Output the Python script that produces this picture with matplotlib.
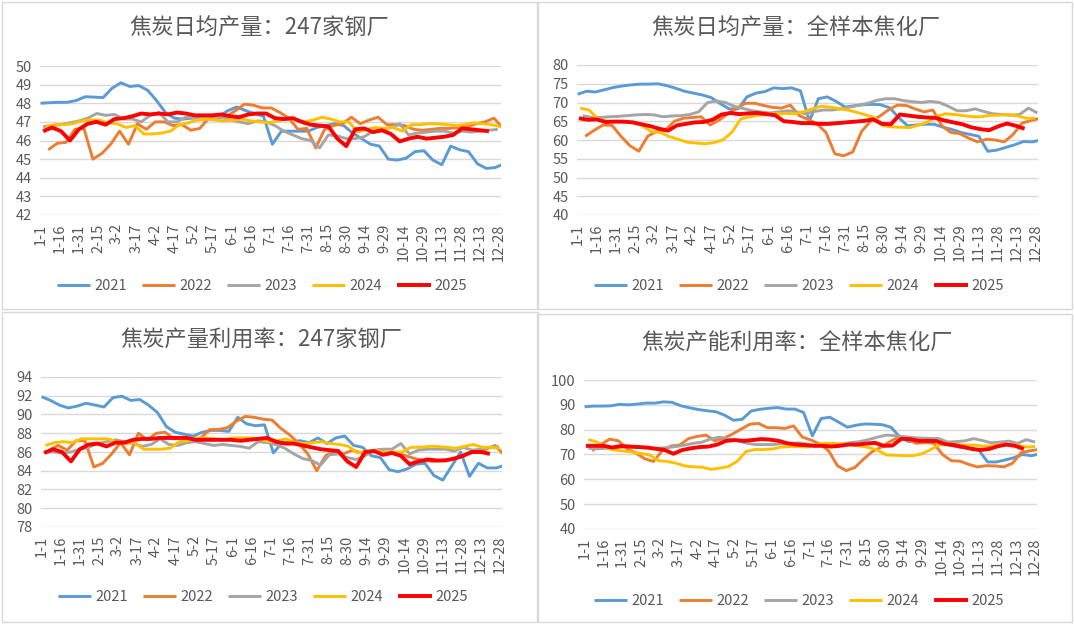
import numpy as np
import matplotlib
matplotlib.use('Agg')
from matplotlib import pyplot as plt
from matplotlib.patches import Rectangle

plt.rcParams['font.family'] = ['Noto Sans CJK SC', 'DejaVu Sans']

# x轴标签（每15天一个）
tick_labels = ['1-1', '1-16', '1-31', '2-15', '3-2', '3-17', '4-2', '4-17', '5-2', '5-17',
               '6-1', '6-16', '7-1', '7-16', '7-31', '8-15', '8-30', '9-14', '9-29',
               '10-14', '10-29', '11-13', '11-28', '12-13', '12-28']
years = ['2021', '2022', '2023', '2024', '2025']
colors = ['#5B9BD5', '#ED7D31', '#A5A5A5', '#FFC000', '#FF0000']

# ---- 焦炭日均产量：247家钢厂 ----
p1_2021 = [48.0, 48.03, 48.05, 48.05, 48.15, 48.35, 48.33, 48.3, 48.8, 49.1, 48.9, 48.95, 48.7,
           48.15, 47.5, 47.2, 47.15, 47.2, 47.3, 47.3, 47.3, 47.6, 47.8, 47.6, 47.45, 47.3, 45.8,
           46.5, 46.5, 46.5, 46.5, 46.7, 46.8, 46.9, 46.8, 46.4, 46.1, 45.8, 45.7, 45.0, 44.95,
           45.05, 45.4, 45.45, 44.95, 44.7, 45.7, 45.5, 45.4, 44.75, 44.5, 44.55, 44.75]
p1_2022 = [45.5, 45.85, 45.9, 46.6, 46.65, 45.0, 45.3, 45.8, 46.5, 45.8, 46.9, 46.6, 47.0, 47.0,
           46.8, 46.85, 46.55, 46.65, 47.2, 47.2, 47.3, 47.6, 47.95, 47.9, 47.75, 47.75, 47.5,
           47.2, 46.6, 46.65, 45.6, 46.6, 46.8, 46.9, 47.25, 46.9, 47.1, 47.25, 46.85, 46.85,
           46.8, 46.6, 46.55, 46.6, 46.65, 46.65, 46.7, 46.75, 46.9, 47.0, 47.2, 46.65]
p1_2023 = [46.75, 46.8, 46.85, 46.95, 47.05, 47.2, 47.45, 47.35, 47.4, 47.15, 47.15, 47.0, 47.35,
           47.5, 47.0, 47.0, 47.25, 47.2, 47.1, 47.2, 47.25, 47.1, 47.0, 46.9, 47.05, 47.0, 46.8,
           46.5, 46.3, 46.1, 46.0, 45.6, 46.3, 46.25, 46.1, 46.1, 46.2, 46.5, 46.6, 46.7, 46.9,
           46.3, 46.4, 46.45, 46.5, 46.5, 46.4, 46.5, 46.45, 46.5, 46.55, 46.6]
p1_2024 = [46.75, 46.85, 46.85, 46.9, 47.05, 47.1, 47.1, 46.95, 46.9, 46.7, 46.8, 46.35, 46.35,
           46.4, 46.5, 46.85, 46.95, 47.1, 47.15, 47.1, 47.05, 47.1, 47.15, 47.05, 47.0, 46.95,
           47.05, 47.15, 47.15, 47.0, 47.1, 47.25, 47.15, 47.0, 47.0, 46.45, 46.6, 46.7, 46.65,
           46.7, 46.5, 46.85, 46.85, 46.9, 46.9, 46.85, 46.8, 46.85, 46.95, 46.9, 46.85, 46.75]
p1_2025 = [46.5, 46.7, 46.5, 46.0, 46.6, 46.9, 47.0, 46.85, 47.15, 47.2, 47.3, 47.45, 47.4, 47.45,
           47.4, 47.5, 47.45, 47.35, 47.35, 47.35, 47.4, 47.3, 47.25, 47.4, 47.45, 47.45, 47.2,
           47.15, 47.2, 47.0, 46.85, 46.8, 46.75, 46.1, 45.7, 46.6, 46.65, 46.45, 46.55, 46.35,
           45.95, 46.1, 46.2, 46.1, 46.15, 46.2, 46.3, 46.65, 46.6, 46.55, 46.5]

# ---- 焦炭日均产量：全样本焦化厂 ----
p2_2021 = [72.2, 73.0, 72.8, 73.4, 74.0, 74.4, 74.7, 74.9, 74.9, 75.0, 74.5, 73.8, 73.0, 72.5,
           72.0, 71.3, 69.7, 68.3, 68.3, 71.5, 72.5, 72.9, 73.9, 73.7, 73.9, 73.1, 65.0, 71.0,
           71.5, 70.3, 68.8, 69.1, 69.4, 69.5, 69.4, 68.6, 66.0, 63.8, 64.0, 64.2, 64.2, 63.4,
           62.8, 62.0, 61.5, 61.0, 57.0, 57.3, 58.0, 58.7, 59.6, 59.5, 60.0]
p2_2022 = [61.0, 62.6, 64.0, 63.9, 61.0, 58.5, 57.0, 61.0, 62.3, 62.7, 65.0, 65.8, 66.0, 66.2,
           64.0, 65.3, 67.0, 68.5, 69.8, 69.8, 69.2, 68.7, 68.5, 69.3, 66.5, 65.5, 64.3, 62.0,
           56.3, 55.8, 56.8, 62.3, 65.0, 66.3, 68.0, 69.3, 69.2, 68.3, 67.5, 68.0, 63.8, 62.0,
           61.7, 60.5, 59.5, 60.2, 60.0, 59.5, 61.5, 64.5, 65.2, 65.8]
p2_2023 = [66.5, 66.0, 66.0, 66.2, 66.3, 66.5, 66.7, 66.8, 66.7, 66.2, 66.4, 66.5, 66.8, 67.5,
           70.0, 70.4, 70.0, 69.0, 68.4, 67.8, 67.5, 67.2, 67.5, 67.8, 67.5, 67.0, 67.6, 68.0,
           68.0, 68.3, 68.8, 69.3, 69.8, 70.6, 71.0, 71.0, 70.5, 70.2, 70.0, 70.3, 70.0, 69.0,
           67.8, 67.8, 68.3, 67.6, 67.0, 66.8, 66.6, 66.8, 68.5, 67.2]
p2_2024 = [68.5, 68.0, 65.6, 65.0, 65.0, 64.8, 64.8, 63.8, 62.2, 62.0, 60.9, 60.2, 59.4, 59.2,
           59.0, 59.3, 60.0, 62.0, 65.6, 66.2, 66.6, 66.8, 67.0, 67.1, 67.0, 67.5, 68.3, 69.0,
           68.8, 68.4, 68.0, 67.4, 66.7, 66.0, 63.8, 63.5, 63.4, 63.3, 64.0, 64.8, 66.3, 67.0,
           66.8, 66.5, 66.2, 66.2, 66.6, 66.6, 66.8, 66.5, 65.8, 65.8]
p2_2025 = [65.8, 65.4, 65.5, 64.8, 64.9, 64.9, 64.7, 64.2, 63.7, 63.0, 62.5, 63.9, 64.3, 64.7,
           64.8, 65.4, 66.8, 67.2, 66.9, 67.1, 67.2, 66.9, 66.6, 65.0, 64.8, 64.5, 64.5, 64.3,
           64.3, 64.5, 64.7, 64.9, 65.1, 65.5, 64.3, 64.2, 66.8, 66.5, 66.2, 66.0, 65.9, 65.2,
           64.7, 64.2, 63.4, 62.9, 62.6, 63.6, 64.4, 63.8, 63.0]

# ---- 焦炭产量利用率：247家钢厂 ----
p3_2021 = [91.9, 91.5, 91.0, 90.7, 90.9, 91.2, 91.0, 90.8, 91.8, 91.95, 91.5, 91.6, 91.0, 90.2,
           88.7, 88.1, 87.9, 87.7, 88.1, 88.3, 88.3, 88.2, 89.7, 89.0, 88.8, 88.9, 85.9, 87.0,
           87.1, 87.2, 87.0, 87.5, 86.9, 87.5, 87.7, 86.7, 86.5, 85.6, 85.4, 84.1, 83.9, 84.2,
           84.7, 84.8, 83.5, 83.0, 84.5, 86.0, 83.4, 84.8, 84.3, 84.3, 84.6]
p3_2022 = [86.2, 86.7, 86.2, 87.2, 87.2, 84.4, 84.8, 85.8, 87.0, 85.7, 88.0, 87.3, 88.0, 88.1,
           87.4, 87.6, 87.2, 87.5, 88.4, 88.4, 88.6, 89.3, 89.8, 89.7, 89.5, 89.4, 88.5, 87.8,
           86.9, 85.8, 84.0, 85.6, 86.1, 85.8, 86.2, 85.9, 86.1, 86.2, 85.8, 85.9, 85.6, 85.3,
           85.1, 85.0, 85.1, 85.2, 85.4, 85.9, 86.0, 86.3, 86.7, 85.7]
p3_2023 = [86.0, 86.0, 85.9, 86.0, 86.3, 86.5, 86.9, 87.1, 87.3, 87.1, 86.9, 86.6, 86.8, 87.4,
           86.8, 86.7, 87.0, 87.1, 86.9, 86.7, 86.8, 86.7, 86.6, 86.4, 87.1, 87.0, 86.8, 86.4,
           85.8, 85.3, 85.1, 84.6, 85.7, 85.8, 85.4, 85.2, 85.6, 86.2, 86.3, 86.3, 86.9, 85.8,
           86.2, 86.3, 86.3, 86.3, 86.1, 86.5, 86.2, 86.3, 86.5, 86.6]
p3_2024 = [86.7, 87.0, 87.1, 87.0, 87.4, 87.4, 87.4, 87.4, 87.1, 86.9, 87.0, 86.3, 86.3, 86.3,
           86.4, 87.1, 87.2, 87.5, 87.5, 87.4, 87.3, 87.5, 87.5, 87.5, 87.4, 87.1, 87.2, 87.4,
           87.0, 86.9, 87.0, 87.1, 86.9, 86.8, 86.6, 85.9, 86.1, 86.1, 86.0, 86.0, 86.0, 86.5,
           86.5, 86.6, 86.6, 86.5, 86.4, 86.6, 86.8, 86.5, 86.5, 86.4]
p3_2025 = [85.9, 86.3, 86.0, 85.0, 86.3, 86.8, 86.9, 86.6, 87.0, 87.0, 87.3, 87.4, 87.4, 87.5,
           87.5, 87.5, 87.5, 87.3, 87.3, 87.3, 87.3, 87.3, 87.2, 87.3, 87.4, 87.5, 87.1, 86.9,
           86.9, 86.7, 86.5, 86.3, 86.2, 86.1, 85.0, 84.4, 86.0, 86.1, 85.7, 85.9, 85.6, 84.7,
           85.0, 85.2, 85.1, 85.1, 85.3, 85.6, 86.0, 86.0, 85.8]

# ---- 焦炭产能利用率：全样本焦化厂 ----
p4_2021 = [89.2, 89.5, 89.5, 89.6, 90.2, 90.0, 90.3, 90.7, 90.7, 91.2, 91.0, 89.6, 88.8, 88.1,
           87.6, 87.2, 85.8, 83.8, 84.2, 87.5, 88.2, 88.6, 88.9, 88.3, 88.3, 86.9, 77.5, 84.5,
           85.0, 83.0, 81.0, 81.8, 82.3, 82.2, 82.0, 80.9, 77.0, 75.2, 75.8, 75.8, 75.6, 74.5,
           73.5, 72.8, 72.5, 71.8, 67.0, 67.0, 67.8, 68.7, 70.0, 69.5, 70.3]
p4_2022 = [71.5, 74.0, 76.2, 75.5, 72.3, 70.6, 68.3, 67.2, 71.5, 73.4, 73.8, 76.4, 77.3, 77.8,
           75.5, 76.5, 78.2, 80.2, 82.2, 82.5, 80.8, 80.8, 80.5, 81.5, 77.0, 75.8, 74.2, 71.5,
           65.5, 63.5, 64.8, 68.2, 71.2, 73.0, 75.2, 77.0, 76.0, 74.5, 74.8, 74.5, 70.0, 67.5,
           67.3, 66.0, 65.0, 65.5, 65.4, 65.0, 66.5, 70.8, 71.5, 72.0]
p4_2023 = [72.5, 72.3, 72.5, 72.8, 73.0, 73.0, 72.8, 72.5, 72.5, 72.8, 73.2, 73.8, 74.5, 75.0,
           76.3, 77.0, 76.2, 75.6, 74.6, 74.0, 74.0, 74.0, 74.3, 74.5, 74.7, 74.2, 73.5, 73.7,
           74.0, 74.3, 74.8, 75.2, 76.0, 77.0, 77.8, 77.6, 77.2, 76.8, 76.6, 76.5, 76.4, 75.0,
           75.2, 75.5, 76.4, 75.6, 74.7, 75.0, 75.4, 74.5, 76.0, 75.0]
p4_2024 = [76.0, 75.0, 72.8, 71.8, 71.4, 71.0, 70.4, 69.8, 67.5, 67.2, 66.5, 65.4, 65.0, 64.9,
           64.0, 64.5, 65.2, 67.3, 71.2, 72.0, 72.0, 72.2, 73.0, 73.2, 73.2, 73.0, 74.0, 74.5,
           74.5, 74.2, 74.0, 73.4, 72.8, 71.8, 69.8, 69.7, 69.5, 69.5, 70.2, 71.8, 73.8, 74.3,
           74.0, 73.8, 73.8, 73.4, 73.4, 74.0, 74.0, 73.8, 73.0, 73.2]
p4_2025 = [73.5, 73.5, 73.5, 72.8, 73.4, 73.2, 73.0, 72.8, 72.3, 71.8, 70.3, 71.8, 72.5, 73.0,
           73.2, 74.0, 75.5, 75.8, 75.5, 75.8, 76.2, 76.0, 75.5, 74.5, 74.0, 73.8, 73.5, 73.5,
           73.2, 73.5, 74.0, 74.0, 74.4, 74.7, 73.5, 73.6, 76.3, 76.2, 75.5, 75.5, 75.4, 74.2,
           73.8, 73.1, 72.3, 71.8, 72.2, 73.3, 74.0, 73.5, 72.2]

# 每年第一期数据对应的日序（从1-1起）
p1_start = [0, 6, 2, 4, 2]
p2_start = [0, 6, 4, 2, 1]
p3_start = [0, 6, 2, 3, 2]
p4_start = [0, 6, 3, 3, 1]

panels = [
    dict(title='焦炭日均产量：247家钢厂', data=[p1_2021, p1_2022, p1_2023, p1_2024, p1_2025],
         start=p1_start, ylim=(42, 50), step=1,
         box=(2, 2, 538, 309), ax=(40, 66, 501, 215), title_xy=(259, 28), leg_xy=(262, 286)),
    dict(title='焦炭日均产量：全样本焦化厂', data=[p2_2021, p2_2022, p2_2023, p2_2024, p2_2025],
         start=p2_start, ylim=(40, 80), step=5,
         box=(537, 2, 1072, 309), ax=(577, 65, 1038, 215), title_xy=(796, 28), leg_xy=(799, 286)),
    dict(title='焦炭产量利用率：247家钢厂', data=[p3_2021, p3_2022, p3_2023, p3_2024, p3_2025],
         start=p3_start, ylim=(78, 94), step=2,
         box=(2, 312, 538, 622), ax=(41, 377, 502, 527), title_xy=(261, 340), leg_xy=(263, 597)),
    dict(title='焦炭产能利用率：全样本焦化厂', data=[p4_2021, p4_2022, p4_2023, p4_2024, p4_2025],
         start=p4_start, ylim=(40, 100), step=10,
         box=(537, 314, 1072, 622), ax=(584, 380, 1037, 529), title_xy=(797, 343), leg_xy=(799, 601)),
]

W, H = 1074, 624
fig = plt.figure(figsize=(W / 100, H / 100), dpi=100)
fig.patch.set_facecolor('white')

for p in panels:
    bx0, by0, bx1, by1 = p['box']
    fig.add_artist(Rectangle((bx0 / W, 1 - by1 / H), (bx1 - bx0) / W, (by1 - by0) / H,
                             transform=fig.transFigure, fill=False, edgecolor='#D9D9D9', lw=1))
    x0, y0, x1, y1 = p['ax']
    ax = fig.add_axes([x0 / W, 1 - y1 / H, (x1 - x0) / W, (y1 - y0) / H])
    for spine in ax.spines.values():
        spine.set_visible(False)

    for yr, vals, st, c in zip(years, p['data'], p['start'], colors):
        xs = st + 7 * np.arange(len(vals))
        lw = 2.8 if yr == '2025' else 2.1
        ax.plot(xs, vals, color=c, lw=lw, label=yr, solid_joinstyle='round', solid_capstyle='butt')

    ax.set_xlim(-0.5, 361.5)
    ax.set_ylim(*p['ylim'])
    ax.set_yticks(np.arange(p['ylim'][0], p['ylim'][1] + 0.01, p['step']))
    ax.set_xticks(np.arange(0, 361, 15))
    ax.set_xticklabels(tick_labels, rotation=90)
    ax.tick_params(axis='both', length=0, colors='#595959', labelsize=10.5)
    ax.tick_params(axis='x', pad=6)
    ax.tick_params(axis='y', pad=6)
    ax.grid(axis='y', color='#D9D9D9', lw=1)
    ax.set_axisbelow(True)

    tx, ty = p['title_xy']
    fig.text(tx / W, 1 - ty / H, p['title'], ha='center', va='center', fontsize=16, color='#595959')

    lx, ly = p['leg_xy']
    ax.legend(loc='center', bbox_to_anchor=(lx / W, 1 - ly / H), bbox_transform=fig.transFigure,
              ncol=5, frameon=False, fontsize=10.5, handlelength=2.3, handletextpad=0.3,
              columnspacing=1.0, labelcolor='#595959')

plt.savefig('out.png', dpi=100)
